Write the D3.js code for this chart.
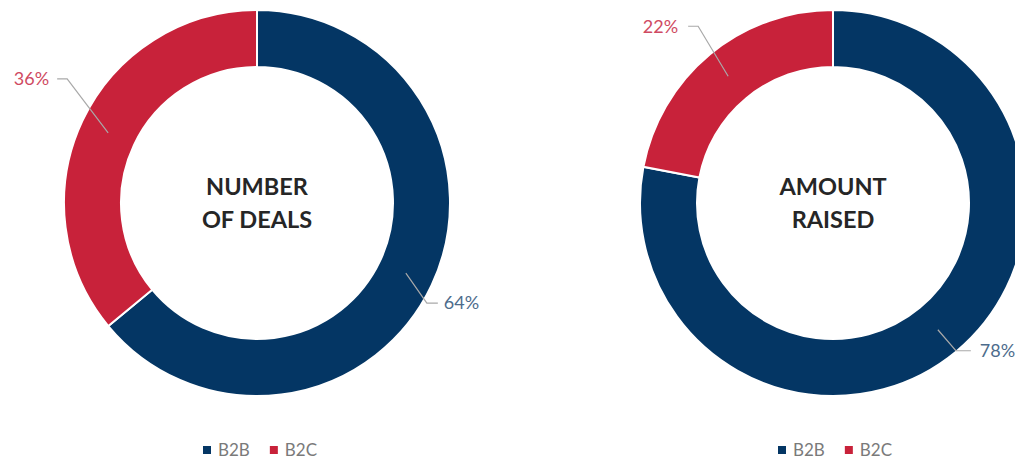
<!DOCTYPE html>
<html>
<head>
<meta charset="utf-8">
<script src="https://cdn.jsdelivr.net/npm/d3@7"></script>
<style>
  html, body { margin: 0; padding: 0; background: #fff; }
  svg { display: block; }
</style>
</head>
<body>
<svg id="chart" width="1015" height="463"></svg>
<script>
// Segment names and shares for the two donuts
const segments = ["B2B", "B2C"];
const dealsShare = [64, 36];
const amountShare = [78, 22];
const titlesDeals = ["NUMBER", "OF DEALS"];
const titlesAmount = ["AMOUNT", "RAISED"];

const fillColors = { B2B: "#043664", B2C: "#c8223a" };
const labelColors = { B2B: "#4d6c8c", B2C: "#cf4a62" };

const svg = d3.select("#chart");

const outerR = 193, innerR = 136;
const pie = d3.pie().sort(null).value(d => d.value);
const arc = d3.arc().innerRadius(innerR).outerRadius(outerR);
const midArc = d3.arc().innerRadius((innerR + outerR) / 2).outerRadius((innerR + outerR) / 2);

// Leader-line layout per label: elbow offset from the slice centroid, horizontal run, text gap
const donuts = [
  {
    cx: 257, cy: 203, values: dealsShare, title: titlesDeals,
    leaders: { B2B: { dx: 21, dy: 30, run: 11, gap: 6 }, B2C: { dx: -41, dy: -54, run: -10, gap: 8 } },
    legendX: 203
  },
  {
    cx: 833, cy: 203, values: amountShare, title: titlesAmount,
    leaders: { B2B: { dx: 18, dy: 21, run: 15, gap: 9 }, B2C: { dx: -30, dy: -50, run: -10, gap: 10 } },
    legendX: 778
  }
];

const font = "Lato, 'Open Sans', sans-serif";

donuts.forEach(dn => {
  const data = segments.map((s, i) => ({ key: s, value: dn.values[i] }));
  const arcs = pie(data);
  const g = svg.append("g").attr("transform", `translate(${dn.cx},${dn.cy})`);

  g.selectAll("path.slice")
    .data(arcs)
    .join("path")
    .attr("class", "slice")
    .attr("d", arc)
    .attr("fill", d => fillColors[d.data.key])
    .attr("stroke", "#fff")
    .attr("stroke-width", 2);

  // Leader lines and percentage labels
  arcs.forEach(a => {
    const [mx, my] = midArc.centroid(a);
    const L = dn.leaders[a.data.key];
    const ex = mx + L.dx, ey = my + L.dy;
    const tx = ex + L.run;
    g.append("polyline")
      .attr("points", `${mx},${my} ${ex},${ey} ${tx},${ey}`)
      .attr("fill", "none")
      .attr("stroke", "#a9a9a9")
      .attr("stroke-width", 1.2);
    g.append("text")
      .attr("x", tx + (L.run > 0 ? L.gap : -L.gap))
      .attr("y", ey)
      .attr("dy", "0.35em")
      .attr("text-anchor", L.run > 0 ? "start" : "end")
      .attr("font-family", font)
      .attr("font-size", 18)
      .attr("fill", labelColors[a.data.key])
      .text(a.data.value + "%");
  });

  // Center title
  g.append("text")
    .attr("text-anchor", "middle")
    .attr("font-family", font)
    .attr("font-weight", 700)
    .attr("font-size", 23.5)
    .attr("fill", "#262626")
    .selectAll("tspan")
    .data(dn.title)
    .join("tspan")
    .attr("x", 0)
    .attr("y", (d, i) => -16 + i * 33)
    .attr("dy", "0.35em")
    .text(d => d);

  // Legend
  const lg = svg.append("g").attr("transform", `translate(${dn.legendX},450)`);
  let x = 0;
  segments.forEach(s => {
    lg.append("rect")
      .attr("x", x).attr("y", -4).attr("width", 8).attr("height", 8)
      .attr("fill", fillColors[s]);
    const t = lg.append("text")
      .attr("x", x + 15).attr("y", 0).attr("dy", "0.35em")
      .attr("font-family", font)
      .attr("font-size", 17)
      .attr("fill", "#7a7a7a")
      .text(s);
    x += 15 + t.node().getComputedTextLength() + 20;
  });
});
</script>
</body>
</html>
